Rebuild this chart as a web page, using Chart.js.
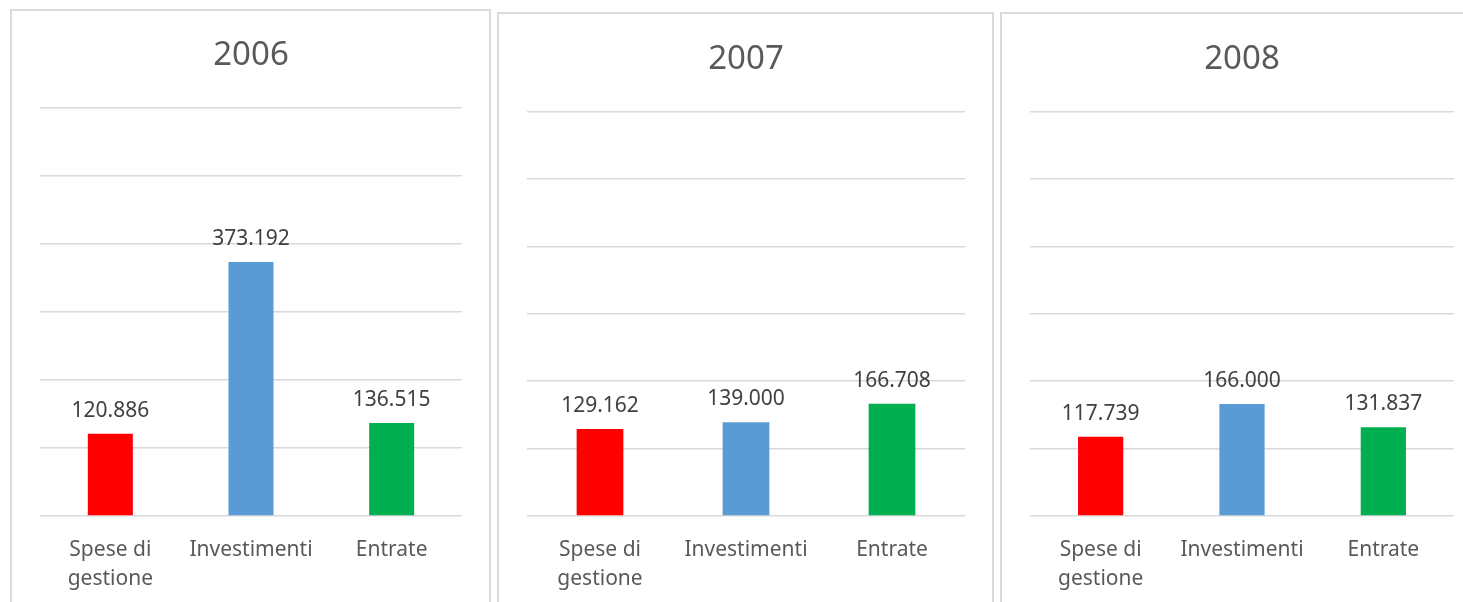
<!DOCTYPE html>
<html>
<head>
<meta charset="utf-8">
<script src="https://cdn.jsdelivr.net/npm/chart.js@4"></script>
<style>
  html, body { margin: 0; padding: 0; background: #ffffff; overflow: hidden; width: 1463px; height: 602px; }
  .panel { position: absolute; box-sizing: border-box; border: 2px solid #dadada; background: #fff; }
  canvas { position: absolute; }
</style>
</head>
<body>
<div class="panel" style="left:10px; top:9px; width:481px; height:640px;"></div>
<div class="panel" style="left:497px; top:12px; width:497px; height:640px;"></div>
<div class="panel" style="left:1000px; top:12px; width:497px; height:640px;"></div>
<canvas id="c0" style="left:10px; top:9px;" width="481" height="593"></canvas>
<canvas id="c1" style="left:498px; top:12px;" width="495" height="590"></canvas>
<canvas id="c2" style="left:1001px; top:12px;" width="480" height="590"></canvas>
<script>
// ---- data ----
const categories = [['Spese di', 'gestione'], 'Investimenti', 'Entrate'];
const years = ['2006', '2007', '2008'];
const values2006 = [120886, 373192, 136515];
const values2007 = [129162, 139000, 166708];
const values2008 = [117739, 166000, 131837];
const barColors = ['#FF0000', '#5B9BD5', '#00B050'];
const yMin = 0, yMax = 600000, yStep = 100000;

const seriesByYear = [values2006, values2007, values2008];

function fmt(v) {
  return String(v).replace(/\B(?=(\d{3})+(?!\d))/g, '.');
}

const FONT = "'Noto Sans', 'Open Sans', sans-serif";

const valueLabels = {
  id: 'valueLabels',
  afterDatasetsDraw(chart) {
    const ctx = chart.ctx;
    const meta = chart.getDatasetMeta(0);
    const data = chart.data.datasets[0].data;
    ctx.save();
    ctx.font = "21px " + FONT;
    ctx.fillStyle = '#404040';
    ctx.textAlign = 'center';
    ctx.textBaseline = 'middle';
    meta.data.forEach((bar, i) => {
      ctx.fillText(fmt(data[i]), bar.x, bar.y - 23);
    });
    ctx.restore();
  }
};

const layouts = [
  { pad: { left: 30, right: 29, top: 0, bottom: 0 }, titlePad: { top: 27, bottom: 32 } },
  { pad: { left: 29, right: 28, top: 0, bottom: 0 }, titlePad: { top: 28, bottom: 32 } },
  { pad: { left: 29, right: 27, top: 0, bottom: 0 }, titlePad: { top: 28, bottom: 32 } }
];

years.forEach((yr, k) => {
  const L = layouts[k];
  new Chart(document.getElementById('c' + k), {
    type: 'bar',
    data: {
      labels: categories,
      datasets: [{
        data: seriesByYear[k],
        backgroundColor: barColors,
        borderWidth: 0,
        categoryPercentage: 1.0,
        barPercentage: 0.32
      }]
    },
    options: {
      responsive: false,
      animation: false,
      events: [],
      layout: { padding: L.pad },
      plugins: {
        legend: { display: false },
        tooltip: { enabled: false },
        title: {
          display: true,
          text: yr,
          color: '#595959',
          font: { family: FONT, size: 33, weight: 'normal', lineHeight: 1.2 },
          padding: L.titlePad
        }
      },
      scales: {
        x: {
          grid: { display: false, drawTicks: false },
          border: { display: false },
          ticks: {
            color: '#595959',
            font: { family: FONT, size: 21, lineHeight: 1.35 },
            padding: 20,
            maxRotation: 0,
            autoSkip: false
          },
          afterFit(scale) { scale.height = 86; }
        },
        y: {
          min: yMin,
          max: yMax,
          ticks: { display: false, stepSize: yStep },
          grid: { color: '#d9d9d9', lineWidth: 1.5, drawTicks: false },
          border: { display: false }
        }
      }
    },
    plugins: [valueLabels]
  });
});
</script>
</body>
</html>
